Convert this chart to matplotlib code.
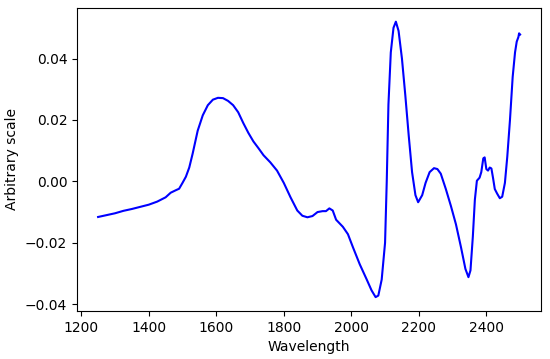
import matplotlib
matplotlib.use("Agg")
import matplotlib.pyplot as plt

wavelength = [1250, 1275, 1300, 1325, 1350, 1375, 1400, 1425, 1450, 1465, 1480, 1490,
              1500, 1510, 1520, 1530, 1545, 1560, 1575, 1590, 1605, 1620, 1635, 1650,
              1665, 1680, 1695, 1710, 1725, 1740, 1760, 1780, 1800, 1820, 1840, 1855,
              1870, 1885, 1900, 1915, 1925, 1935, 1945, 1955, 1975, 1990, 2005, 2025,
              2045, 2060, 2072, 2080, 2090, 2100, 2105, 2110, 2117, 2125, 2132, 2140,
              2150, 2160, 2170, 2180, 2190, 2198, 2210, 2220, 2232, 2245, 2255, 2265,
              2280, 2295, 2310, 2325, 2338, 2347, 2353, 2360, 2366, 2372, 2380, 2385,
              2391, 2395, 2400, 2405, 2410, 2415, 2420, 2425, 2432, 2440, 2447, 2455,
              2462, 2470, 2478, 2485, 2490, 2495, 2497, 2500]
signal = [-0.0116, -0.0110, -0.0104, -0.0096, -0.0090, -0.0083, -0.0076, -0.0066,
          -0.0052, -0.0037, -0.0029, -0.0024, -0.0005, 0.0015, 0.0045, 0.0090, 0.0165,
          0.0215, 0.0248, 0.0266, 0.0272, 0.0271, 0.0262, 0.0248, 0.0225, 0.0190,
          0.0158, 0.0130, 0.0108, 0.0085, 0.0062, 0.0035, -0.0005, -0.0052, -0.0095,
          -0.0112, -0.0117, -0.0113, -0.0100, -0.0097, -0.0097, -0.0088, -0.0095,
          -0.0125, -0.0148, -0.0172, -0.0215, -0.0270, -0.0318, -0.0355, -0.0377,
          -0.0372, -0.0320, -0.0200, 0.0000, 0.0250, 0.0420, 0.0500, 0.0520, 0.0490,
          0.0400, 0.0280, 0.0150, 0.0030, -0.0045, -0.0068, -0.0045, -0.0005, 0.0030,
          0.0043, 0.0040, 0.0025, -0.0025, -0.0080, -0.0140, -0.0215, -0.0285, -0.0312,
          -0.0290, -0.0180, -0.0060, 0.0002, 0.0012, 0.0030, 0.0075, 0.0078, 0.0040,
          0.0035, 0.0045, 0.0042, 0.0010, -0.0025, -0.0040, -0.0055, -0.0050, -0.0005,
          0.0080, 0.0200, 0.0340, 0.0420, 0.0455, 0.0470, 0.0482, 0.0478]

fig, ax = plt.subplots(figsize=(5.5, 3.59), dpi=100)
ax.plot(wavelength, signal, color="#0000ff", linewidth=1.5)
ax.set_xlabel("Wavelength")
ax.set_ylabel("Arbitrary scale")
fig.subplots_adjust(left=0.14, right=0.984, top=0.978, bottom=0.134)
fig.savefig("out.png", dpi=100)
